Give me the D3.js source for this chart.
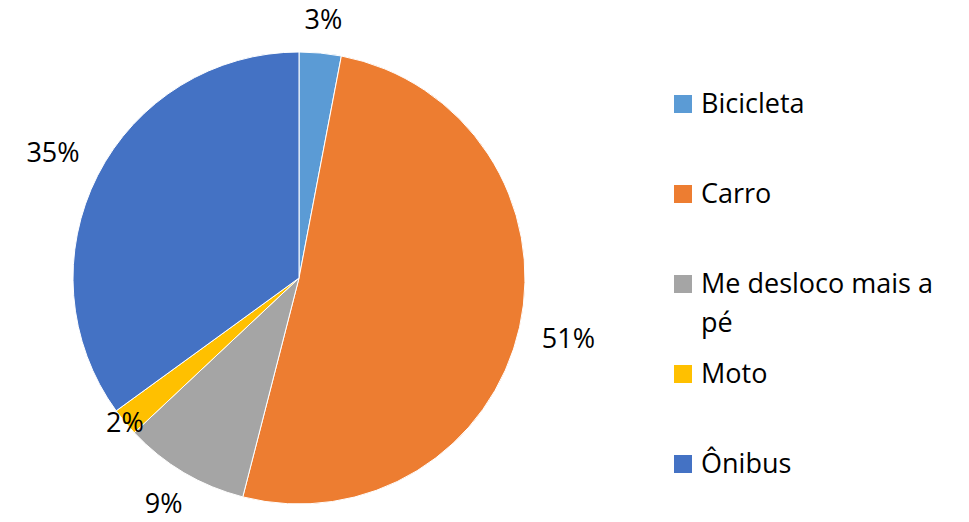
<!DOCTYPE html>
<html>
<head>
<meta charset="utf-8">
<script src="https://cdn.jsdelivr.net/npm/d3@7"></script>
<style>
  html, body { margin: 0; padding: 0; background: #fff; }
  svg { display: block; }
  text { font-family: "Open Sans", "Lato", sans-serif; fill: #000; }
</style>
</head>
<body>
<svg id="chart" width="969" height="522"></svg>
<script>
const categories = ["Bicicleta", "Carro", "Me desloco mais a pé", "Moto", "Ônibus"];
const values = [3, 51, 9, 2, 35];
const colors = ["#5B9BD5", "#ED7D31", "#A5A5A5", "#FFC000", "#4472C4"];

const W = 969, H = 522;
const cx = 299, cy = 278, R = 226;
const fontSize = 27;
const capH = fontSize * 0.714;
const descent = fontSize * 0.29;
const labelGap = 22;

const svg = d3.select("#chart");
const data = categories.map((c, i) => ({ cat: c, value: values[i], color: colors[i] }));

const pie = d3.pie().value(d => d.value).sort(null);
const arcs = pie(data);
const arc = d3.arc().innerRadius(0).outerRadius(R);

const g = svg.append("g").attr("transform", `translate(${cx},${cy})`);

g.selectAll("path.slice")
  .data(arcs)
  .enter().append("path")
  .attr("class", "slice")
  .attr("d", arc)
  .attr("fill", d => d.data.color)
  .attr("stroke", "#fff")
  .attr("stroke-width", 1);

const total = d3.sum(values);
const fmt = v => Math.round(v / total * 100) + "%";

// labels: outside end, tiny slices centred on the rim, kept inside the chart area
const labels = g.selectAll("text.lbl")
  .data(arcs)
  .enter().append("text")
  .attr("class", "lbl")
  .attr("font-size", fontSize)
  .attr("text-anchor", "middle")
  .text(d => fmt(d.data.value));

labels.each(function(d) {
  const w = this.getComputedTextLength();
  const a = (d.startAngle + d.endAngle) / 2;
  const dx = Math.sin(a), dy = -Math.cos(a);
  const hw = w / 2, hh = capH / 2;
  let dist;
  if (d.data.value / total < 0.03) {
    dist = R;
  } else {
    dist = R + labelGap + Math.abs(dx) * hw + Math.abs(dy) * hh;
  }
  let base = dy * dist + capH / 2;
  const maxBase = (H - cy) - descent - 1;
  if (base > maxBase) base = maxBase;
  d3.select(this).attr("x", dx * dist).attr("y", base);
});

// legend
const legX = 674, legY0 = 95, legStep = 90, sq = 18, textX = 701, maxW = 250, lineH = 39;
const leg = svg.append("g");
data.forEach((d, i) => {
  const y = legY0 + i * legStep;
  leg.append("rect")
    .attr("x", legX).attr("y", y).attr("width", sq).attr("height", sq)
    .attr("fill", d.color);
  const t = leg.append("text")
    .attr("x", textX).attr("y", y + sq)
    .attr("font-size", fontSize);
  const words = d.cat.split(" ");
  let line = [];
  let ts = t.append("tspan").attr("x", textX).attr("y", y + sq);
  let lineNo = 0;
  words.forEach(w => {
    line.push(w);
    ts.text(line.join(" "));
    if (ts.node().getComputedTextLength() > maxW && line.length > 1) {
      line.pop();
      ts.text(line.join(" "));
      line = [w];
      lineNo++;
      ts = t.append("tspan").attr("x", textX).attr("y", y + sq + lineNo * lineH).text(w);
    }
  });
});
</script>
</body>
</html>
